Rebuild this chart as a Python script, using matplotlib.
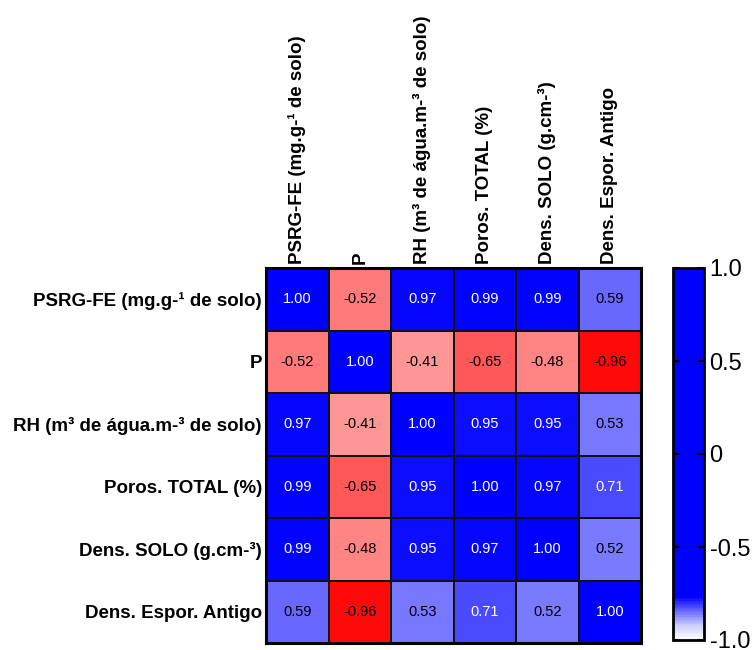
import numpy as np
import matplotlib
matplotlib.use("Agg")
import matplotlib.pyplot as plt
from matplotlib.colors import LinearSegmentedColormap, Normalize
from matplotlib.cm import ScalarMappable

plt.rcParams['font.family'] = ['Liberation Sans', 'DejaVu Sans']

variables = [
    "PSRG-FE (mg.g-¹ de solo)",
    "P",
    "RH (m³ de água.m-³ de solo)",
    "Poros. TOTAL (%)",
    "Dens. SOLO (g.cm-³)",
    "Dens. Espor. Antigo",
]

row_psrg = [1.00, -0.52, 0.97, 0.99, 0.99, 0.59]
row_p = [-0.52, 1.00, -0.41, -0.65, -0.48, -0.96]
row_rh = [0.97, -0.41, 1.00, 0.95, 0.95, 0.53]
row_poros = [0.99, -0.65, 0.95, 1.00, 0.97, 0.71]
row_dens_solo = [0.99, -0.48, 0.95, 0.97, 1.00, 0.52]
row_dens_espor = [0.59, -0.96, 0.53, 0.71, 0.52, 1.00]

cbar_ticks = [-1.0, -0.5, 0, 0.5, 1.0]
cbar_labels = ["-1.0", "-0.5", "0", "0.5", "1.0"]

corr = np.array([row_psrg, row_p, row_rh, row_poros, row_dens_solo, row_dens_espor])
n = len(variables)

# red -> white -> blue for the cells
cell_cmap = LinearSegmentedColormap.from_list(
    "rwb", [(0.0, "#ff0000"), (0.5, "#ffffff"), (1.0, "#0000ff")])
# scale bar shading
bar_cmap = LinearSegmentedColormap.from_list(
    "wb", [(0.0, "#ffffff"), (0.04, "#c8c8ff"), (0.115, "#0000ff"), (1.0, "#0000ff")])
norm = Normalize(vmin=-1, vmax=1)

fig = plt.figure(figsize=(7.54, 6.5), dpi=100)
ax = fig.add_axes([266 / 754, 7 / 650, 375 / 754, 375 / 650])

ax.pcolormesh(np.arange(n + 1), np.arange(n + 1), corr, cmap=cell_cmap, norm=norm,
              edgecolors="#111111", linewidth=1.2)
ax.set_xlim(0, n)
ax.set_ylim(n, 0)

for i in range(n):
    for j in range(n):
        v = corr[i, j]
        color = "white" if v > 0.65 else "black"
        ax.text(j + 0.5, i + 0.5, f"{v:.2f}", ha="center", va="center",
                fontsize=10.5, color=color)

ax.set_xticks(np.arange(n) + 0.5)
ax.set_yticks(np.arange(n) + 0.5)
ax.set_xticklabels(variables, rotation=90, fontsize=13.5, fontweight="bold")
ax.set_yticklabels(variables, fontsize=13.5, fontweight="bold")
ax.xaxis.tick_top()
ax.tick_params(axis="both", length=0, pad=3)
for s in ax.spines.values():
    s.set_linewidth(2.2)
    s.set_color("black")

# scale bar
cax = fig.add_axes([673 / 754, 10 / 650, 31 / 754, 372 / 650])
sm = ScalarMappable(norm=norm, cmap=bar_cmap)
cb = fig.colorbar(sm, cax=cax, ticks=cbar_ticks)
cb.ax.set_yticklabels(cbar_labels)
cb.ax.tick_params(axis="y", direction="in", length=5, width=1.5, labelsize=17,
                  left=True, right=True, labelleft=False, labelright=True, pad=4)
cb.outline.set_linewidth(2)

fig.savefig("out.png", dpi=100)
